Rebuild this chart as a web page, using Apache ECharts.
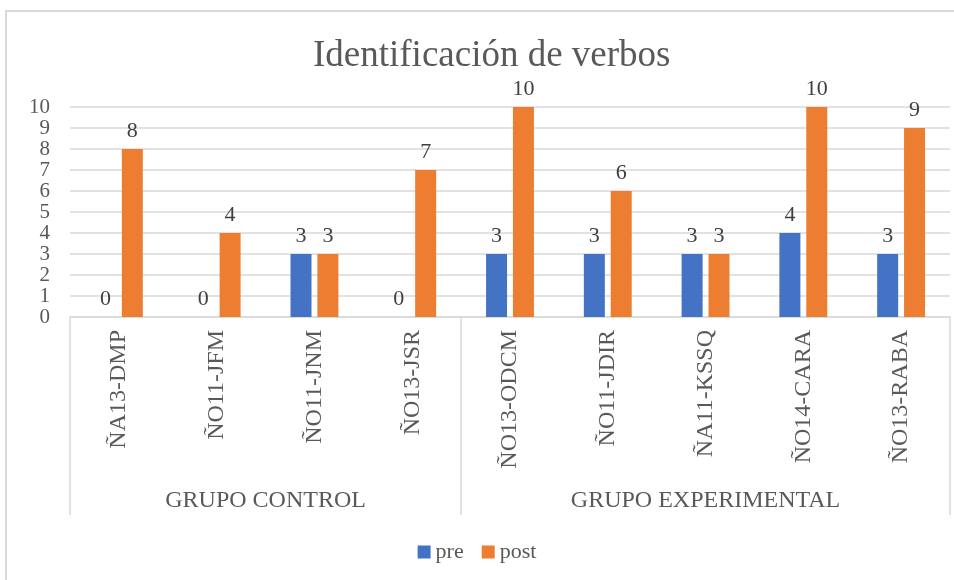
<!DOCTYPE html>
<html>
<head>
<meta charset="utf-8">
<script src="https://cdn.jsdelivr.net/npm/echarts@6/dist/echarts.min.js"></script>
<style>
  html, body { margin: 0; padding: 0; background: #fff; }
  #frame { position: absolute; left: 5px; top: 10px; width: 1000px; height: 600px; border-left: 2px solid #d9d9d9; border-top: 2px solid #d9d9d9; }
  #chart { position: absolute; left: 0; top: 0; width: 954px; height: 580px; }
</style>
</head>
<body>
<div id="frame"></div>
<div id="chart"></div>
<script>
// datos
const categories = ['ÑA13-DMP', 'ÑO11-JFM', 'ÑO11-JNM', 'ÑO13-JSR', 'ÑO13-ODCM', 'ÑO11-JDIR', 'ÑA11-KSSQ', 'ÑO14-CARA', 'ÑO13-RABA']
const preValues = [0, 0, 3, 0, 3, 3, 3, 4, 3]
const postValues = [8, 4, 3, 7, 10, 6, 3, 10, 9]
const groupNames = ['GRUPO CONTROL', 'GRUPO EXPERIMENTAL']
const groupSizes = [4, 5]
const yTicks = [0, 10, 1] // min, max, interval

const serif = "'Liberation Serif', 'Times New Roman', serif"
const grey = '#595959'
const lineGrey = '#d9d9d9'

// secondary axis: 2 slots per category, points from left edge to right edge
const slots = new Array(categories.length * 2 + 1).fill('')
const sepSlots = [0]
const labelSlots = []
let acc = 0
groupSizes.forEach((n, i) => {
  const mid = acc * 2 + n
  slots[mid] = groupNames[i]
  labelSlots.push(mid)
  acc += n
  sepSlots.push(acc * 2)
})

const chart = echarts.init(document.getElementById('chart'))
chart.setOption({
  animation: false,
  title: {
    text: 'Identificación de verbos',
    left: 308,
    top: 33,
    textStyle: { fontFamily: serif, fontSize: 37, fontWeight: 'normal', color: grey }
  },
  legend: {
    data: ['pre', 'post'],
    left: 'center',
    bottom: 12,
    icon: 'rect',
    itemWidth: 13,
    itemHeight: 13,
    itemGap: 18,
    textStyle: { fontFamily: serif, fontSize: 22, color: grey }
  },
  grid: { left: 70, right: 4, top: 107, bottom: 263, containLabel: false },
  xAxis: [
    {
      type: 'category',
      data: categories,
      axisLine: { lineStyle: { color: lineGrey, width: 1.5 } },
      axisTick: { show: false },
      axisLabel: { rotate: 90, margin: 13, interval: 0, fontFamily: serif, fontSize: 24, color: grey }
    },
    {
      type: 'category',
      position: 'bottom',
      boundaryGap: false,
      data: slots,
      axisLine: { show: false },
      axisTick: {
        show: true,
        length: 198,
        interval: (idx) => sepSlots.includes(idx),
        lineStyle: { color: lineGrey, width: 1.5 }
      },
      axisLabel: {
        interval: (idx) => labelSlots.includes(idx),
        margin: 172,
        fontFamily: serif,
        fontSize: 24,
        color: grey
      },
      splitLine: { show: false }
    }
  ],
  yAxis: {
    type: 'value',
    min: yTicks[0],
    max: yTicks[1],
    interval: yTicks[2],
    axisLine: { show: false },
    axisTick: { show: false },
    axisLabel: {
      margin: 20, fontFamily: serif, fontSize: 21, color: grey,
      showMinLabel: true, showMaxLabel: true
    },
    splitLine: { lineStyle: { color: lineGrey, width: 1.5 } }
  },
  series: [
    {
      name: 'pre',
      type: 'bar',
      data: preValues,
      barWidth: 21,
      barGap: '28%',
      itemStyle: { color: '#4472c4' },
      label: { show: true, position: 'top', distance: 7, fontFamily: serif, fontSize: 22, color: '#404040' }
    },
    {
      name: 'post',
      type: 'bar',
      data: postValues,
      barWidth: 21,
      barGap: '28%',
      itemStyle: { color: '#ed7d31' },
      label: { show: true, position: 'top', distance: 7, fontFamily: serif, fontSize: 22, color: '#404040' }
    }
  ]
})
</script>
</body>
</html>
